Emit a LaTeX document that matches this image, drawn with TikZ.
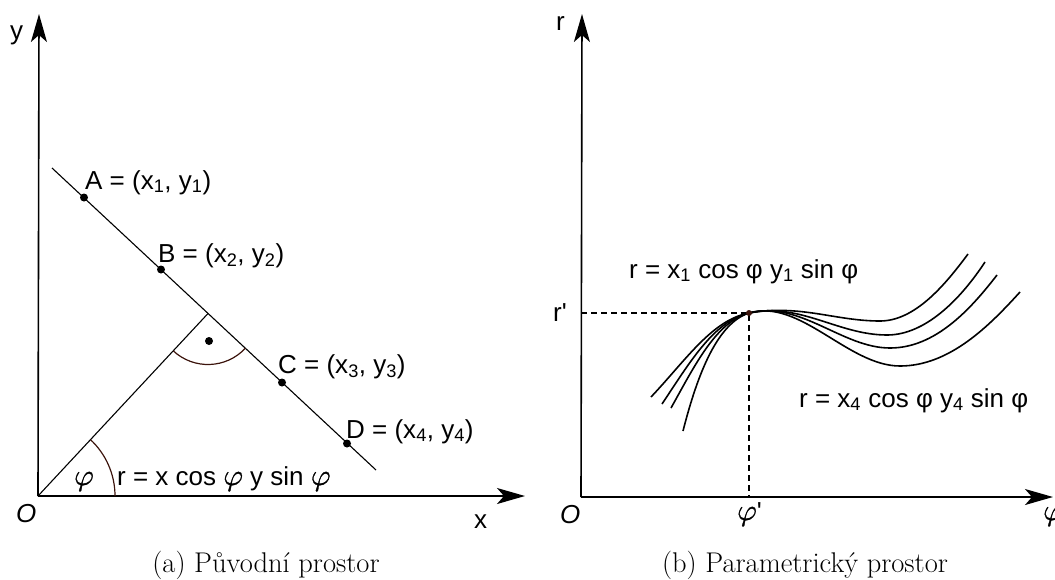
\documentclass[tikz,border=0pt]{standalone}
\usepackage{fontspec}
\newfontfamily\sfa{Liberation Sans}
\newfontfamily\lmr{Latin Modern Roman}
\newfontfamily\lmm[FakeBold=1]{Latin Modern Math}
\newcommand{\vphi}{{\lmm\fontsize{30}{32}\selectfont\symbol{"1D711}}}
\usetikzlibrary{arrows.meta,calc}
\definecolor{arcc}{RGB}{60,20,12}
\begin{document}
\begin{tikzpicture}[x=1pt,y=-1pt,
  lab/.style={font=\sfa\fontsize{26}{30}\selectfont, inner sep=0pt, anchor=base west},
  captext/.style={font=\lmr\fontsize{28.5}{32}\selectfont, inner sep=0pt, anchor=base},
  axis/.style={line width=1.6pt, -{Stealth[length=28pt,width=16pt,inset=7pt]}},
  thin line/.style={line width=1.1pt},
  curve/.style={line width=1.6pt},
  anglearc/.style={line width=1.2pt, draw=arcc},
  dot/.style={circle, fill=black, inner sep=0pt, minimum size=8pt},
  dash line/.style={line width=1.1pt, dash pattern=on 6pt off 4pt}]
\useasboundingbox (0,0) rectangle (1055,579);
% ---------- left diagram ----------
\coordinate (O1) at (38,496);
\coordinate (ytip) at (39,14);
\coordinate (xtip) at (525,496);
\draw[axis] (O1) -- (ytip);
\draw[axis] (O1) -- (xtip);
\coordinate (L1) at (52,168);
\coordinate (L2) at (376,470);
\draw[thin line] (L1) -- (L2);
\coordinate (F) at (208,313.5);
\draw[thin line] (O1) -- (F);
\node[dot] (A) at (84,197.5) {};
\node[dot] (B) at (161,269.5) {};
\node[dot] (C) at (282,382.5) {};
\node[dot] (D) at (347,443.5) {};
\node[dot] (R) at (209,341) {};
\draw[anglearc] ($(F)+(43:51)$) arc[start angle=43, end angle=133, radius=51];
\draw[anglearc] ($(O1)+(77,0)$) arc[start angle=0, end angle=-47, radius=77];
\node[lab] (tA) at (85,189) {A = (x\textsubscript{1}, y\textsubscript{1})};
\node[lab] (tB) at (158,262) {B = (x\textsubscript{2}, y\textsubscript{2})};
\node[lab] (tC) at (278,373) {C = (x\textsubscript{3}, y\textsubscript{3})};
\node[lab] (tD) at (346,438) {D = (x\textsubscript{4}, y\textsubscript{4})};
\node[lab] (phi1) at (74,485) {\vphi};
\node[lab] (eq1) at (117,485) {r = x cos \vphi\ y sin \vphi};
\node[lab] (ly) at (10,39) {y};
\node[lab] (lx) at (474,528) {x};
\node[lab] (lO1) at (16,522) {\itshape O};
% ---------- right diagram ----------
\coordinate (O2) at (581,497);
\coordinate (rtip) at (582,14);
\coordinate (ftip) at (1053,497);
\draw[axis] (O2) -- (rtip);
\draw[axis] (O2) -- (ftip);
\coordinate (P) at (749,313);
\draw[dash line] (O2 |- P) -- (P) -- (P |- O2);
\draw[curve] (651,397) .. controls (686,360) and (712,320) .. (P)
  .. controls (800,304) and (835,321) .. (880,321)
  .. controls (915,321) and (945,285) .. (968,254);
\draw[curve] (662,404) .. controls (690,362) and (714,321) .. (P)
  .. controls (800,302) and (838,335) .. (887,335)
  .. controls (925,335) and (960,300) .. (985,262);
\draw[curve] (671,408) .. controls (695,365) and (716,322) .. (P)
  .. controls (800,300) and (842,348) .. (890,348)
  .. controls (935,348) and (970,310) .. (997,275);
\draw[curve] (683,431) .. controls (698,372) and (718,323) .. (P)
  .. controls (800,298) and (848,366) .. (900,366)
  .. controls (950,366) and (990,325) .. (1020,292);
\fill[arcc] (P) circle (3);
\node[lab] (eq2) at (629,278) {r = x\textsubscript{1} cos φ y\textsubscript{1} sin φ};
\node[lab] (eq3) at (799,407) {r = x\textsubscript{4} cos φ y\textsubscript{4} sin φ};
\node[lab] (lr) at (556,30) {r};
\node[lab] (lrp) at (553,321) {r'};
\node[lab] (lO2) at (560,523) {\itshape O};
\node[lab] (lphip) at (737,520) {\vphi'};
\node[lab] (lphi) at (1043,520) {\vphi};
% ---------- captions ----------
\node[captext] (capa) at (266,572) {(a) Původní prostor};
\node[captext] (capb) at (805,572) {(b) Parametrický prostor};
\end{tikzpicture}
\end{document}
